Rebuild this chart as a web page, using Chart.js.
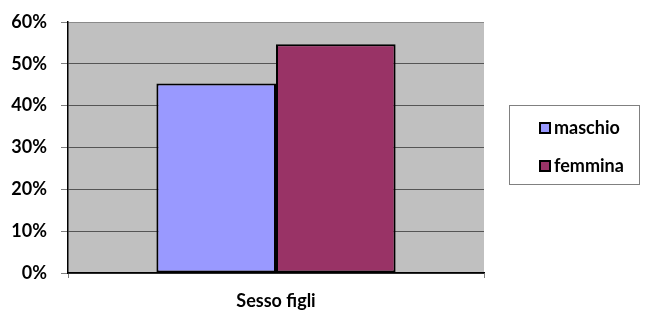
<!DOCTYPE html>
<html>
<head>
<meta charset="utf-8">
<script src="https://cdn.jsdelivr.net/npm/chart.js@4"></script>
<style>
    body { margin: 0; background: #fff; }
    #wrap { position: relative; width: 649px; height: 311px; }
    #legend {
        position: absolute; left: 509px; top: 105px; width: 131px; height: 80px;
        border: 1px solid #808080; box-sizing: border-box;
        font: bold 18px Lato, sans-serif; color: #000;
    }
    .item { position: absolute; left: 29px; height: 22px; line-height: 22px; white-space: nowrap; }
    .swatch {
        display: inline-block; width: 8px; height: 8px; border: 2px solid #000;
        vertical-align: 0px; margin-right: 3px;
    }
</style>
</head>
<body>
<div id="wrap">
    <canvas id="chart" width="649" height="311"></canvas>
    <div id="legend"></div>
</div>
<script>
// Data
const categories = ['Sesso figli'];
const seriesLabels = ['maschio', 'femmina'];
const maschioValues = [45.3];
const femminaValues = [54.7];
const yTicks = [0, 10, 20, 30, 40, 50, 60];

const colors = ['#9999FF', '#993366'];
const font = { family: 'Lato, sans-serif', size: 18, weight: 'bold' };

// Gray plot area
const plotBackground = {
    id: 'plotBackground',
    beforeDraw(chart) {
        const { ctx, chartArea: a } = chart;
        ctx.save();
        ctx.fillStyle = '#C0C0C0';
        ctx.fillRect(a.left, a.top, a.right - a.left, a.bottom - a.top);
        ctx.restore();
    }
};

const chart = new Chart(document.getElementById('chart'), {
    type: 'bar',
    data: {
        labels: categories,
        datasets: [
            {
                label: seriesLabels[0],
                data: maschioValues,
                backgroundColor: colors[0],
                borderColor: '#000',
                borderWidth: 2,
                borderSkipped: false
            },
            {
                label: seriesLabels[1],
                data: femminaValues,
                backgroundColor: colors[1],
                borderColor: '#000',
                borderWidth: 2,
                borderSkipped: false
            }
        ]
    },
    options: {
        responsive: false,
        animation: false,
        layout: { padding: { top: 22, right: 165, left: 0, bottom: 0 } },
        categoryPercentage: 0.575,
        barPercentage: 1,
        plugins: {
            legend: { display: false },
            tooltip: { enabled: false }
        },
        scales: {
            y: {
                min: 0,
                max: 60,
                afterFit(scale) {
                    scale.width = 68;
                    // label padding would otherwise push the plot area down
                    scale.paddingTop = 10;
                    scale.paddingBottom = 0;
                },
                afterBuildTicks(scale) { scale.ticks = yTicks.map(v => ({ value: v })); },
                ticks: {
                    color: '#000',
                    font: font,
                    padding: 14,
                    callback: v => v + '%'
                },
                grid: {
                    color: ctx => ctx.tick && ctx.tick.value === 60 ? '#8a8a8a' : '#555',
                    tickColor: '#808080',
                    tickLength: 7,
                    lineWidth: 1
                },
                border: { color: '#000', width: 1.5 }
            },
            x: {
                afterFit(scale) { scale.height = 38; },
                ticks: { color: '#000', font: font, padding: 12 },
                grid: {
                    offset: true,
                    drawOnChartArea: false,
                    tickColor: '#808080',
                    tickLength: 5
                },
                border: { color: '#000', width: 1.5 }
            }
        }
    },
    plugins: [plotBackground]
});

// Legend box
const legend = document.getElementById('legend');
chart.data.datasets.forEach((ds, i) => {
    const item = document.createElement('div');
    item.className = 'item';
    item.style.top = (10 + i * 38) + 'px';
    item.innerHTML = '<span class="swatch" style="background:' + ds.backgroundColor + '"></span>' + ds.label;
    legend.appendChild(item);
});
</script>
</body>
</html>
